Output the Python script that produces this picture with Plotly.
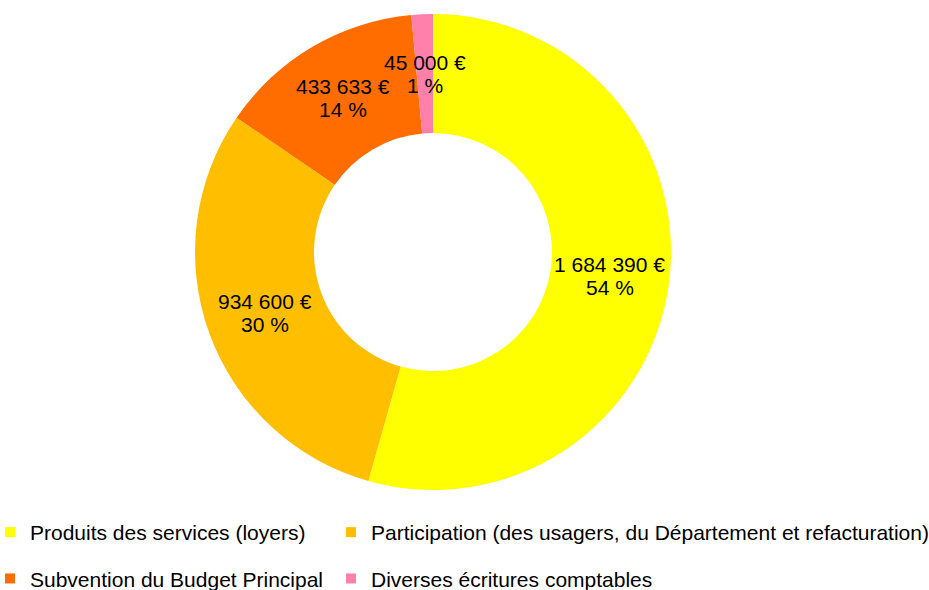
import math
import plotly.graph_objects as go

labels = [
    "Produits des services (loyers)",
    "Participation (des usagers, du Département et refacturation)",
    "Subvention du Budget Principal",
    "Diverses écritures comptables",
]
values = [1684390, 934600, 433633, 45000]
colors = ["#ffff00", "#ffbf00", "#ff6d00", "#ff80aa"]
legend_cols = ["legend", "legend2", "legend", "legend2"]

W, H = 929, 590
cx, cy, R = 433, 252, 238
hole = 0.5
mt = cy - R
mb = H - (cy + R)
FONT = "Liberation Sans"
FS = 21


def fmt_eur(v):
    return f"{v:,}".replace(",", " ") + " €"


total = sum(values)
fig = go.Figure()
fig.add_trace(go.Pie(
    labels=labels,
    values=values,
    sort=False,
    direction="clockwise",
    rotation=0,
    hole=hole,
    marker=dict(colors=colors, line=dict(width=0)),
    textinfo="none",
    hoverinfo="label+value+percent",
    domain=dict(x=[(cx - R) / W, (cx + R) / W], y=[0, 1]),
    showlegend=False,
))

# legend entries (two columns)
for i, (lab, col, lg) in enumerate(zip(labels, colors, legend_cols)):
    fig.add_trace(go.Scatter(
        x=[None], y=[None], mode="markers", name=lab,
        marker=dict(symbol="square", size=10, color=col),
        legend=lg, legendgroup=f"g{i}", showlegend=True, hoverinfo="skip",
    ))

# data labels at ring middle
rmid = R * (1 + hole) / 2
plot_h = H - mt - mb
cum = 0
for v in values:
    frac = v / total
    mid = (cum + frac / 2) * 2 * math.pi
    cum += frac
    px = cx + rmid * math.sin(mid)
    py = cy - rmid * math.cos(mid)
    pct = round(frac * 100)
    for line, dy in ((fmt_eur(v), 11.5), (f"{pct} %", -11.5)):
        fig.add_annotation(
            x=px / W, y=(H - mb - py) / plot_h, xref="paper", yref="paper",
            text=line, showarrow=False, yshift=dy,
            font=dict(size=FS, color="black", family=FONT),
            xanchor="center", yanchor="middle",
        )

leg_common = dict(
    orientation="v", yanchor="top", xanchor="left",
    traceorder="grouped", tracegroupgap=16,
    font=dict(size=FS, color="black", family=FONT),
    itemclick=False, itemdoubleclick=False,
    bgcolor="rgba(0,0,0,0)",
)
leg_y = (H - mb - 512) / plot_h
fig.update_layout(
    width=W, height=H,
    margin=dict(l=0, r=0, t=mt, b=mb, autoexpand=False),
    paper_bgcolor="white", plot_bgcolor="white",
    font=dict(family=FONT, size=FS, color="black"),
    xaxis=dict(visible=False),
    yaxis=dict(visible=False),
    legend=dict(x=-10 / W, y=leg_y, **leg_common),
    legend2=dict(x=331 / W, y=leg_y, **leg_common),
    showlegend=True,
)
fig.write_html(
    "out.html",
    config={"displayModeBar": False},
    post_script="document.body.style.margin='0';document.body.style.overflow='hidden';",
)
